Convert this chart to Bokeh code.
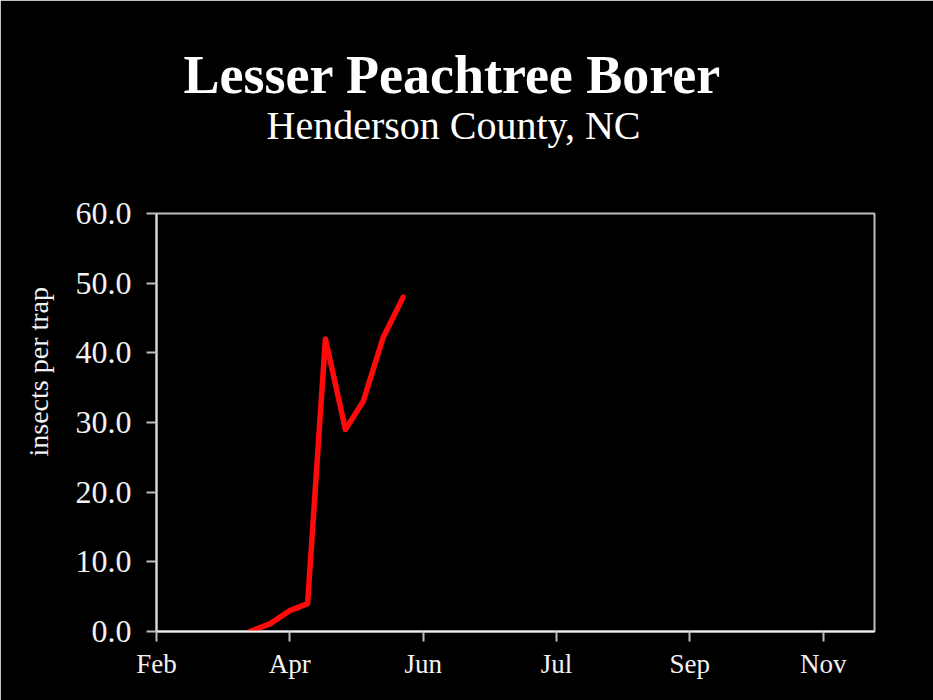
import pandas as pd
from bokeh.plotting import figure
from bokeh.models import Range1d, FixedTicker, DatetimeTickFormatter, Title, NumeralTickFormatter
from bokeh.embed import file_html
from bokeh.resources import INLINE

# ---- data ----
dates = ["2007-03-15", "2007-03-24", "2007-04-02", "2007-04-10", "2007-04-18",
         "2007-04-27", "2007-05-05", "2007-05-14", "2007-05-23"]
insects = [0.0, 1.1, 3.0, 4.0, 42.0, 29.0, 33.0, 42.2, 48.0]
tick_dates = ["2007-02-01", "2007-04-02", "2007-06-01", "2007-07-31", "2007-09-29", "2007-11-28"]
y_ticks = [0, 10, 20, 30, 40, 50, 60]
title_text = "Lesser Peachtree Borer"
subtitle_text = "Henderson County, NC"
y_label = "insects per trap"

def ms(d):
    return pd.Timestamp(d).value / 1e6

DAY = 86400000.0
x_start = ms("2007-02-01")
x_end = x_start + 323.1 * DAY

W, H = 933, 700
p = figure(width=W, height=H, x_axis_type="datetime", output_backend="svg",
           toolbar_location=None, x_range=Range1d(x_start, x_end), y_range=Range1d(0, 60),
           min_border_left=156, min_border_right=59, min_border_top=213, min_border_bottom=69)

p.background_fill_color = "black"
p.border_fill_color = "black"
p.outline_line_color = "#bdbdbd"
p.outline_line_width = 2
p.grid.visible = False

SERIF = "Liberation Serif"

p.line([ms(d) for d in dates], insects, line_color="#ff0a0a", line_width=5.5,
       line_join="round", line_cap="round")

# axes
p.xaxis.ticker = FixedTicker(ticks=[ms(d) for d in tick_dates])
p.xaxis.formatter = DatetimeTickFormatter(
    milliseconds="%b", seconds="%b", minsec="%b", minutes="%b", hourmin="%b",
    hours="%b", days="%b", months="%b", years="%b")
p.yaxis.ticker = FixedTicker(ticks=y_ticks)
p.yaxis.formatter = NumeralTickFormatter(format="0.0")

for ax in (p.xaxis[0], p.yaxis[0]):
    ax.axis_line_color = "#d9d9d9"
    ax.axis_line_width = 2
    ax.major_tick_line_color = "#bdbdbd"
    ax.major_tick_line_width = 2
    ax.major_tick_in = 0
    ax.major_tick_out = 10
    ax.minor_tick_line_color = None
    ax.major_label_text_color = "#f2f2f2"
    ax.major_label_text_font = SERIF
ax_x = p.xaxis[0]
ax_x.axis_line_color = "#f0f0f0"
ax_x.major_label_text_font_size = "27px"
ax_x.major_label_standoff = 7
ax_y = p.yaxis[0]
ax_y.major_label_text_font_size = "32px"
ax_y.major_label_standoff = 15
ax_y.axis_label_standoff = 0

# y-axis title as a left-side title so it can be offset along the axis
p.add_layout(Title(text=y_label, text_font=SERIF, text_font_size="28px",
                   text_font_style="normal", text_color="#f2f2f2", align="left",
                   offset=175, standoff=38), "left")

# titles: subtitle closest to plot, main title above it
p.add_layout(Title(text=subtitle_text, text_font=SERIF, text_font_size="40px",
                   text_font_style="normal", text_color="white", align="left",
                   standoff=132, offset=110), "above")
p.add_layout(Title(text=title_text, text_font=SERIF, text_font_size="54px",
                   text_font_style="bold", text_color="white", align="left",
                   standoff=-141, offset=27), "above")

open("out.html", "w").write(file_html(p, INLINE))
